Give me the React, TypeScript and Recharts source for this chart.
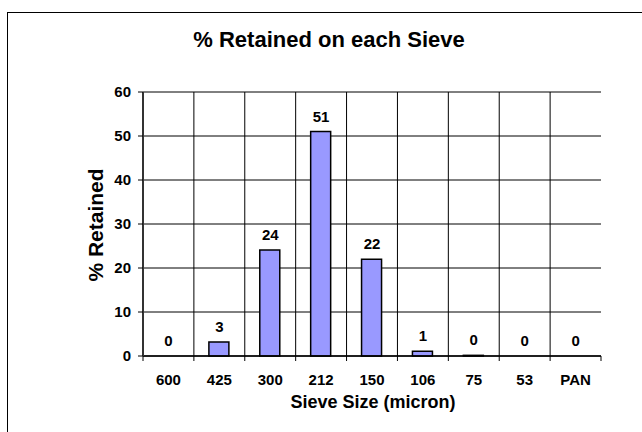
import React from 'react';
import { ComposedChart, Bar, Line, XAxis, YAxis, CartesianGrid, LabelList } from 'recharts';

const categories = ['600', '425', '300', '212', '150', '106', '75', '53', 'PAN'];
const retained = [0, 3.2, 24.1, 51, 22, 1.1, 0.15, 0, 0];
const yTicks = [0, 10, 20, 30, 40, 50, 60];
const titleText = '% Retained on each Sieve';
const xTitle = 'Sieve Size (micron)';
const yTitle = '% Retained';

const data = categories.map((c, i) => ({ sieve: c, value: retained[i] }));

const W = 642;
const H = 432;
const MARGIN = { top: 92, right: 41, bottom: 46, left: 83 };
const Y_W = 60;
const PLOT_W = W - MARGIN.left - Y_W - MARGIN.right;
const BAND = PLOT_W / categories.length;
const FONT = '"Liberation Sans", Arial, Helvetica, sans-serif';

function XTick(props: any) {
  const { x, y, payload, index } = props;
  const half = BAND / 2;
  return (
    <g>
      <line x1={x - half} x2={x - half} y1={y} y2={y + 5} stroke="#000" strokeWidth={1} />
      {index === categories.length - 1 && (
        <line x1={x + half} x2={x + half} y1={y} y2={y + 5} stroke="#000" strokeWidth={1} />
      )}
      <text x={x} y={y + 29} textAnchor="middle" fontFamily={FONT} fontWeight="bold" fontSize={15} fill="#000">
        {payload.value}
      </text>
    </g>
  );
}

export default function App() {
  return (
    <div style={{ position: 'absolute', left: 0, top: 0, width: W, height: H, overflow: 'hidden', background: '#fff' }}>
      <div
        style={{
          position: 'absolute',
          left: 7,
          top: 12,
          width: 700,
          height: 500,
          border: '1.5px solid #000',
          boxSizing: 'border-box',
        }}
      />
      <div style={{ position: 'absolute', left: 0, top: 0 }}>
        <ComposedChart width={W} height={H} data={data} margin={MARGIN}>
          <CartesianGrid
            stroke="#000"
            strokeWidth={1}
            verticalCoordinatesGenerator={({ offset }: any) =>
              categories.slice(1).map((_, i) => offset.left + ((i + 1) * offset.width) / categories.length)
            }
          />
          <XAxis
            dataKey="sieve"
            height={30}
            tickLine={false}
            tickSize={0}
            tickMargin={0}
            interval={0}
            axisLine={{ stroke: '#000', strokeWidth: 1.5 }}
            tick={<XTick />}
          />
          <XAxis
            xAxisId="top"
            dataKey="sieve"
            orientation="top"
            height={0}
            tick={false}
            tickLine={false}
            axisLine={{ stroke: '#808080', strokeWidth: 2 }}
          />
          <YAxis
            width={Y_W}
            domain={[0, 60]}
            ticks={yTicks}
            interval={0}
            tickSize={5}
            tickMargin={7}
            tickLine={{ stroke: '#000' }}
            axisLine={{ stroke: '#333', strokeWidth: 2 }}
            tick={{ fill: '#000', fontSize: 15, fontWeight: 'bold', fontFamily: FONT }}
          />
          <YAxis
            yAxisId="right"
            orientation="right"
            width={0}
            domain={[0, 60]}
            tick={false}
            tickLine={false}
            axisLine={{ stroke: '#808080', strokeWidth: 2 }}
          />
          <Bar dataKey="value" fill="#9999FF" stroke="#000" strokeWidth={1.5} barSize={20} isAnimationActive={false} />
          <Line dataKey="value" stroke="none" dot={false} activeDot={false} isAnimationActive={false} legendType="none">
            <LabelList
              dataKey="value"
              position="top"
              offset={10}
              formatter={(v: any) => Math.round(Number(v))}
              fill="#000"
              fontSize={15}
              fontWeight="bold"
              fontFamily={FONT}
            />
          </Line>
        </ComposedChart>
      </div>
      <svg width={W} height={H} style={{ position: 'absolute', left: 0, top: 0, pointerEvents: 'none' }}>
        <text x={329} y={47} textAnchor="middle" fontFamily={FONT} fontWeight="bold" fontSize={22} fill="#000">
          {titleText}
        </text>
        <text
          x={103}
          y={225}
          transform="rotate(-90 103 225)"
          textAnchor="middle"
          fontFamily={FONT}
          fontWeight="bold"
          fontSize={21}
          fill="#000"
        >
          {yTitle}
        </text>
        <text x={373} y={408} textAnchor="middle" fontFamily={FONT} fontWeight="bold" fontSize={18} fill="#000">
          {xTitle}
        </text>
      </svg>
    </div>
  );
}
